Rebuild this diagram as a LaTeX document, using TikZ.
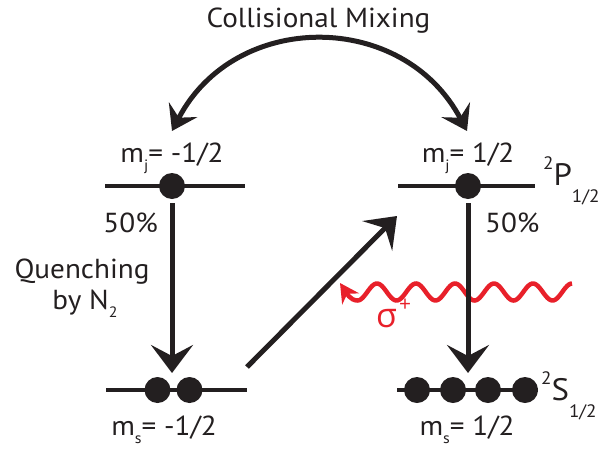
\documentclass[tikz,border=0pt]{standalone}
\usepackage{fontspec}
\setmainfont{PT Sans}[FakeStretch=1.06]
\newfontfamily\greekfont{Open Sans}
\usetikzlibrary{arrows.meta}
\definecolor{ink}{HTML}{231F20}
\definecolor{laser}{HTML}{E8202A}
\newcommand\lsub[1]{\raisebox{-0.32em}{\fontsize{15}{15}\selectfont #1}}
\newcommand\bigsub[1]{\raisebox{-0.55em}{\fontsize{18}{18}\selectfont #1}}
\newcommand\bigsup[1]{\raisebox{0.5em}{\fontsize{18}{18}\selectfont #1}}
\tikzset{
  lvl/.style={draw=ink, line width=4.5pt},
  dot/.style={circle, fill=ink, minimum size=26pt, inner sep=0pt},
  arr/.style={draw=ink, line width=5pt, -{Stealth[length=28pt, width=42pt, inset=11pt]}},
  arcarr/.style={draw=ink, line width=5pt, {Stealth[length=24pt, width=32pt, inset=9pt]}-{Stealth[length=24pt, width=32pt, inset=9pt]}},
  wave/.style={draw=laser, line width=4.5pt, -{Stealth[length=19pt, width=20pt, inset=6pt]}},
  lbl/.style={inner sep=0pt, font=\fontsize{27.5}{27.5}\selectfont, text=ink},
  term/.style={inner sep=0pt, font=\fontsize{31}{31}\selectfont, text=ink},
}
\begin{document}
\begin{tikzpicture}[x=1pt, y=-1pt]
\useasboundingbox (0,0) rectangle (602,450);
% levels
\coordinate (ula) at (105,186); \coordinate (ulb) at (245,186);
\coordinate (ura) at (398,186); \coordinate (urb) at (535,186);
\coordinate (lla) at (106,390); \coordinate (llb) at (247,390);
\coordinate (lra) at (397,390); \coordinate (lrb) at (538,390);
\draw[lvl] (ula) -- (ulb);
\draw[lvl] (ura) -- (urb);
\draw[lvl] (lla) -- (llb);
\draw[lvl] (lra) -- (lrb);
\node[dot] (pm) at (172,186) {};
\node[dot] (pp) at (468,186) {};
\node[dot] (sm1) at (157.5,390) {};
\node[dot] (sm2) at (189.5,390) {};
\node[dot] (sp1) at (417,390) {};
\node[dot] (sp2) at (453,390) {};
\node[dot] (sp3) at (488,390) {};
\node[dot] (sp4) at (525,390) {};
% collisional mixing arc
\coordinate (ctl) at (172,131);
\coordinate (ctr) at (467,131);
\draw[arcarr] (ctl) .. controls (235,10) and (403,10) .. (ctr);
% laser wave
\coordinate (wtip) at (340,283);
\draw[wave] plot[domain=572:357.5, samples=140, smooth] (\x, {292-8.5*cos(9.2308*(\x-377))})
   .. controls (350,300.5) and (346,292) .. (wtip);
% decays
\coordinate (qtip) at (172,373);
\coordinate (dtip) at (468,373);
\draw[arr, shorten <=4pt] (pm) -- (qtip);
\draw[arr, shorten <=4pt] (pp) -- (dtip);
% pumping
\coordinate (pst) at (247,367);
\coordinate (ptip) at (397,216);
\draw[arr] (pst) -- (ptip);
% labels
\node[lbl, anchor=base] (title) at (318.5,27) {Collisional Mixing};
\node[lbl, anchor=base] (mjm) at (172,162) {m\lsub{j}= -1/2};
\node[lbl, anchor=base] (mjp) at (468,162) {m\lsub{j}= 1/2};
\node[lbl, anchor=base east] (pl) at (158,232) {50\%};
\node[lbl, anchor=base west] (pr) at (485,232) {50\%};
\node[lbl, anchor=base] (q1) at (82,278) {Quenching};
\node[lbl, anchor=base] (q2) at (85,309) {by N\lsub{2}};
\node[lbl, anchor=base] (msm) at (164,435) {m\lsub{s}= -1/2};
\node[lbl, anchor=base] (msp) at (467,435) {m\lsub{s}= 1/2};
\node[term, anchor=base west] (P) at (543,185) {\bigsup{2}P\bigsub{1/2}};
\node[term, anchor=base west] (S) at (541,400) {\bigsup{2}S\bigsub{1/2}};
\node[inner sep=0pt, anchor=base west, text=laser, font=\fontsize{34}{34}\selectfont] (sig) at (376,327) {\greekfont σ\kern2pt\raisebox{0.45em}{\fontsize{21}{21}\selectfont +}};
\end{tikzpicture}
\end{document}
